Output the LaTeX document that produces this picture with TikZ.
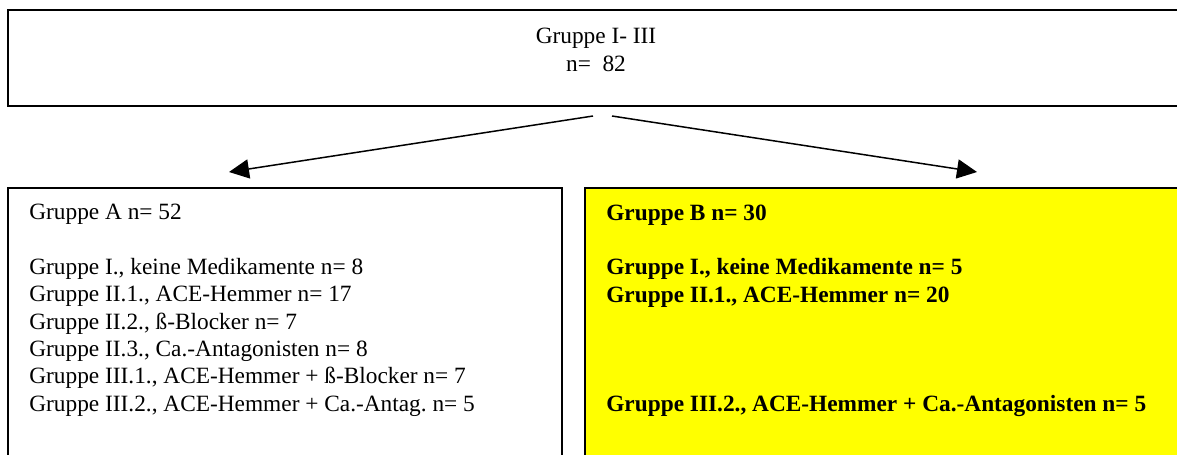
\documentclass[tikz,border=0pt]{standalone}
\usepackage{fontspec}
\setmainfont{Liberation Serif}
\usepackage{xcolor}
\usetikzlibrary{arrows.meta}
\definecolor{myyellow}{RGB}{255,255,0}
\frenchspacing
\tikzset{
  >=latex,
  box/.style={draw=black,line width=0.9pt,rectangle,inner sep=0pt,outer sep=0pt},
  box white/.style={box,fill=white},
  box yellow/.style={box,fill=myyellow},
  list text/.style={anchor=north west,inner sep=0pt,align=left,
    font=\fontsize{14pt}{16.4pt}\selectfont},
  connect arrow/.style={-{Triangle[length=12pt,width=11.5pt]},line width=0.9pt,black}
}

\begin{document}
\begin{tikzpicture}[x=0.6pt,y=-0.6pt]
    \useasboundingbox (0,0) rectangle (1177,454);
    \clip (0,0) rectangle (1177,454);

    % ------- boxes -------
    \node[box white,  minimum width=705.6pt, minimum height=57.6pt]  (all)  at (596,58)  {};
    \node[box white,  minimum width=332.4pt, minimum height=175.2pt] (grpA) at (285,334) {};
    \node[box yellow, minimum width=360pt,   minimum height=175.2pt] (grpB) at (885,334) {};

    % ------- texts -------
    \node[list text, anchor=north, align=center, font=\fontsize{14pt}{16.8pt}\selectfont]
        (allText) at (596,27.6) {Gruppe I- III\\n= \ 82};

    \node[list text] (listA) at (29,204.2) {%
        Gruppe A n= 52\\[16.4pt]
        Gruppe I., keine Medikamente n= 8\\
        Gruppe II.1., ACE-Hemmer n= 17\\
        Gruppe II.2., ß-Blocker n= 7\\
        Gruppe II.3., Ca.-Antagonisten n= 8\\
        Gruppe III.1., ACE-Hemmer + ß-Blocker n= 7\\
        Gruppe III.2., ACE-Hemmer + Ca.-Antag. n= 5};

    \node[list text, font=\fontsize{14pt}{16.4pt}\selectfont\bfseries] (listB) at (606,204.2) {%
        Gruppe B n= 30\\[16.4pt]
        Gruppe I., keine Medikamente n= 5\\
        Gruppe II.1., ACE-Hemmer n= 20\\[49.2pt]
        Gruppe III.2., ACE-Hemmer + Ca.-Antagonisten n= 5};

    % ------- arrows -------
    \draw[connect arrow] ([shift={(-3,10)}]all.south)  -- ([shift={(-56,-16)}]grpA.north);
    \draw[connect arrow] ([shift={(16,10)}]all.south)  -- ([shift={(92,-16)}]grpB.north);
\end{tikzpicture}
\end{document}
